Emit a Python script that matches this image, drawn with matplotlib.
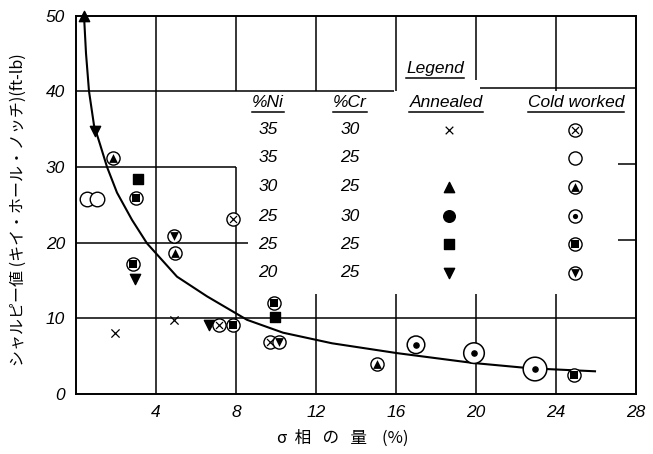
import matplotlib
matplotlib.use("Agg")
import matplotlib.pyplot as plt

plt.rcParams['font.family'] = ['Liberation Sans', 'DejaVu Sans']

# trend curve
curve_x = [0.4, 0.5, 0.65, 0.9, 1.2, 1.55, 2.05, 2.8, 3.55, 5.05, 6.55, 8.55, 10.35, 12.8, 16.05, 19.85, 22.7, 25.95]
curve_y = [50, 45, 40, 35.5, 33.0, 30.0, 26.6, 23.0, 19.9, 15.5, 12.9, 9.8, 8.1, 6.7, 5.4, 4.1, 3.4, 3.0]

# annealed points
ann_x35_30 = [1.95, 4.9]
ann_y35_30 = [8.0, 9.8]
ann_x30_25 = [0.4]
ann_y30_25 = [50]
ann_x25_25 = [3.1, 9.95]
ann_y25_25 = [28.4, 10.2]
ann_x20_25 = [0.95, 2.95, 6.65]
ann_y20_25 = [34.8, 15.2, 9.1]

# cold worked points
cw_x35_30 = [7.15, 9.7, 7.85]
cw_y35_30 = [9.1, 6.9, 23.1]
cw_x35_25 = [0.55, 1.05]
cw_y35_25 = [25.8, 25.8]
cw_x30_25 = [1.85, 4.95, 15.05]
cw_y30_25 = [31.2, 18.6, 4.0]
cw_x25_30 = [17.0, 19.9, 22.95]
cw_y25_30 = [6.5, 5.4, 3.3]
cw_x25_25 = [3.0, 2.85, 7.85, 9.9, 24.9]
cw_y25_25 = [25.9, 17.2, 9.1, 12.0, 2.5]
cw_x20_25 = [4.9, 10.15]
cw_y20_25 = [20.9, 6.9]

# legend table
ni = ['35', '35', '30', '25', '25', '20']
cr = ['30', '25', '25', '30', '25', '25']
headers = ['%Ni', '%Cr', 'Annealed', 'Cold worked']

xticks = [4, 8, 12, 16, 20, 24, 28]
yticks = [0, 10, 20, 30, 40, 50]

fig = plt.figure(figsize=(6.53, 4.54), dpi=100)
ax = fig.add_axes([76/653, 60/454, 560/653, 378.5/454])
ax.set_xlim(0, 28)
ax.set_ylim(0, 50)

for s in ax.spines.values():
    s.set_linewidth(1.4)
    s.set_color('black')

# broken grid as in the original drawing
k = dict(color='black', lw=1.1)
ax.vlines(4, 0, 50, **k)
ax.vlines([8, 12, 16, 24], 40, 50, **k)
ax.vlines(20, 41.5, 50, **k)
ax.vlines(8, 0, 30, **k)
ax.vlines([12, 16, 20, 24], 0, 13.2, **k)
ax.hlines(40, 0, 15.9, **k)
ax.hlines(40.4, 20.2, 28, **k)
ax.hlines(30, 0, 8, **k)
ax.hlines(20, 0, 8.6, **k)
ax.hlines(10, 0, 28, **k)
ax.hlines([30.4, 20.4], 27.1, 28, **k)

ax.set_xticks(xticks)
ax.set_yticks(yticks)
ax.tick_params(length=0, labelsize=12.5, pad=8)
for lab in ax.get_xticklabels() + ax.get_yticklabels():
    lab.set_fontstyle('italic')

ax.plot(curve_x, curve_y, color='black', lw=1.5, zorder=2)


def ring(x, y, inner=None, s=90, si=25):
    ax.scatter(x, y, s=s, marker='o', facecolor='white', edgecolor='black', lw=1.0, zorder=4)
    if inner == 'x':
        ax.scatter(x, y, s=si, marker='x', color='black', lw=0.9, zorder=5)
    elif inner is not None:
        ax.scatter(x, y, s=si, marker=inner, color='black', lw=0, zorder=5)


ax.scatter(ann_x35_30, ann_y35_30, marker='x', s=35, color='black', lw=0.9, zorder=4)
ax.scatter(ann_x30_25, ann_y30_25, marker='^', s=55, color='black', zorder=4, clip_on=False)
ax.scatter(ann_x25_25, ann_y25_25, marker='s', s=45, color='black', zorder=4)
ax.scatter(ann_x20_25, ann_y20_25, marker='v', s=55, color='black', zorder=4)

ring(cw_x35_30, cw_y35_30, 'x')
ring(cw_x35_25, cw_y35_25, None, s=110)
ring(cw_x30_25, cw_y30_25, '^', si=40)
ax.scatter(cw_x25_30, cw_y25_30, s=[160, 220, 290], marker='o', facecolor='white',
           edgecolor='black', lw=1.1, zorder=4)
ax.scatter(cw_x25_30, cw_y25_30, s=14, marker='o', color='black', zorder=5)
ring(cw_x25_25, cw_y25_25, 's', si=30)
ring(cw_x20_25, cw_y20_25, 'v', si=40)

# legend table
col_x = [9.6, 13.7, 18.5, 25.0]
head_y = 38.5
row_y = [34.9, 31.2, 27.4, 23.5, 19.8, 16.0]
tk = dict(fontsize=12.5, fontstyle='italic', ha='center', va='center')

head_txt = [ax.text(cx, head_y, h, **tk) for cx, h in zip(col_x, headers)]
leg_txt = ax.text(17.95, 43.0, 'Legend', **tk)
for i in range(len(ni)):
    ax.text(col_x[0], row_y[i], ni[i], **tk)
    ax.text(col_x[1], row_y[i], cr[i], **tk)

mx_a, mx_c = 18.65, 24.95
ax.scatter(mx_a, row_y[0], marker='x', s=30, color='black', lw=0.9, zorder=4)
ax.scatter(mx_a, row_y[2], marker='^', s=55, color='black', zorder=4)
ax.scatter(mx_a, row_y[3], marker='o', s=70, color='black', zorder=4)
ax.scatter(mx_a, row_y[4], marker='s', s=45, color='black', zorder=4)
ax.scatter(mx_a, row_y[5], marker='v', s=55, color='black', zorder=4)
ring(mx_c, row_y[0], 'x')
ring(mx_c, row_y[1], None)
ring(mx_c, row_y[2], '^', si=40)
ring(mx_c, row_y[3], 'o', si=14)
ring(mx_c, row_y[4], 's', si=30)
ring(mx_c, row_y[5], 'v', si=40)

# underline the headings
fig.canvas.draw()
inv = ax.transData.inverted()
for t in head_txt + [leg_txt]:
    bb = t.get_window_extent()
    (x0, y0), (x1, y1) = inv.transform([[bb.x0, bb.y0], [bb.x1, bb.y1]])
    ax.plot([x0, x1], [y0 - 0.3, y0 - 0.3], color='black', lw=1.1)

fig.text(18/653, 1 - 210/454, 'シャルピー値 (キイ・ホール・ノッチ)(ft-lb)', rotation=90,
         ha='center', va='center', fontsize=11.5,
         family=['Noto Sans CJK JP', 'DejaVu Sans'])
fig.text(343/653, 1 - 438/454, 'σ  相   の   量    (%)', ha='center', va='center',
         fontsize=12, family=['Noto Sans CJK JP', 'DejaVu Sans'])

fig.savefig('out.png', dpi=100)
